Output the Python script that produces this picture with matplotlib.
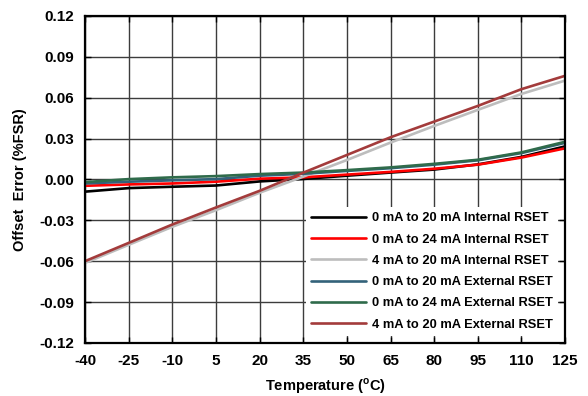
import numpy as np
import matplotlib.pyplot as plt

plt.rcParams['font.family'] = ['Liberation Sans', 'DejaVu Sans']

# temperature points (degC)
temp = [-40, -25, -10, 5, 20, 35, 50, 65, 80, 95, 110, 125]

# offset error (%FSR)
int_0_20 = [-0.0090, -0.0064, -0.0054, -0.0045, -0.0015, 0.0003, 0.0027, 0.0050, 0.0072, 0.0110, 0.0165, 0.0242]
int_0_24 = [-0.0047, -0.0037, -0.0030, -0.0017, 0.0005, 0.0015, 0.0035, 0.0055, 0.0078, 0.0108, 0.0160, 0.0228]
int_4_20 = [-0.0613, -0.0480, -0.0348, -0.0226, -0.0098, 0.0020, 0.0142, 0.0270, 0.0392, 0.0510, 0.0627, 0.0725]
ext_0_20 = [-0.0030, -0.0017, -0.0007, 0.0002, 0.0027, 0.0041, 0.0062, 0.0082, 0.0108, 0.0140, 0.0193, 0.0268]
ext_0_24 = [-0.0020, 0.0002, 0.0015, 0.0024, 0.0039, 0.0050, 0.0068, 0.0088, 0.0114, 0.0144, 0.0198, 0.0276]
ext_4_20 = [-0.0600, -0.0466, -0.0331, -0.0206, -0.0084, 0.0049, 0.0179, 0.0309, 0.0424, 0.0539, 0.0662, 0.0760]

series = [
    ("0 mA to 20 mA Internal RSET", int_0_20, "#000000"),
    ("0 mA to 24 mA Internal RSET", int_0_24, "#ff0000"),
    ("4 mA to 20 mA Internal RSET", int_4_20, "#bdbdbd"),
    ("0 mA to 20 mA External RSET", ext_0_20, "#33627a"),
    ("0 mA to 24 mA External RSET", ext_0_24, "#2f6b4b"),
    ("4 mA to 20 mA External RSET", ext_4_20, "#a33b3b"),
]

xticks = [-40, -25, -10, 5, 20, 35, 50, 65, 80, 95, 110, 125]
yticks = [-0.12, -0.09, -0.06, -0.03, 0.0, 0.03, 0.06, 0.09, 0.12]

fig = plt.figure(figsize=(5.88, 3.96), dpi=100)
ax = fig.add_axes([0.1446, 0.134, 0.8164, 0.826])

for label, vals, color in series:
    ax.plot(temp, vals, color=color, lw=1.9, label=label, solid_capstyle='round')

ax.set_xlim(-40, 125)
ax.set_ylim(-0.12, 0.12)
ax.set_xticks(xticks)
ax.set_yticks(yticks)
ax.set_xticklabels([str(t) for t in xticks])
ax.set_yticklabels([f"{v:.2f}" for v in yticks])
ax.grid(True, color='#3c3c3c', lw=1.0)
ax.set_axisbelow(True)
ax.tick_params(direction='in', length=4, width=1, labelsize=11,
               top=True, right=True, pad=8)
for lab in ax.get_xticklabels() + ax.get_yticklabels():
    lab.set_fontweight('bold')
for sp in ax.spines.values():
    sp.set_linewidth(1.6)

ax.set_xlabel(r'Temperature ($^{\mathregular{o}}$C)', fontsize=10.5,
              fontweight='bold', labelpad=6)
ax.set_ylabel('Offset  Error (%FSR)', fontsize=10.5, fontweight='bold', labelpad=9)

leg = ax.legend(loc='lower right', frameon=True, fancybox=False,
                framealpha=1, edgecolor='white', handlelength=4.3,
                handletextpad=0.45, labelspacing=0.72, borderaxespad=0.55,
                prop={'weight': 'bold', 'size': 9.25})
leg.get_frame().set_linewidth(0)

fig.savefig('out.png', dpi=100)
